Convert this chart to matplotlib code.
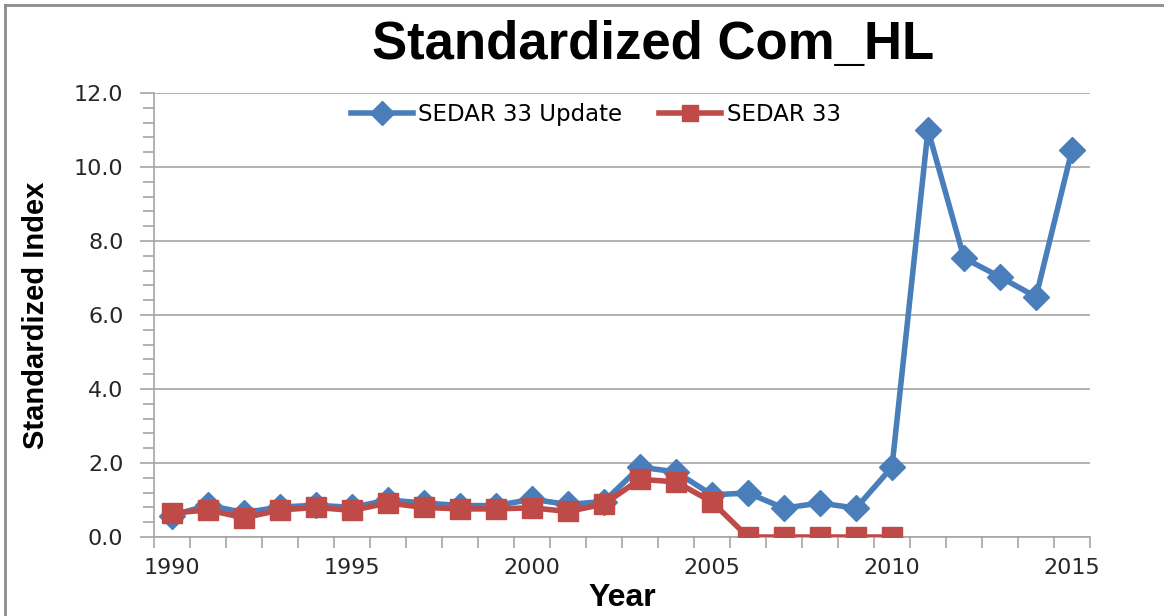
import matplotlib.pyplot as plt
import numpy as np
from matplotlib.lines import Line2D

years = np.arange(1990, 2016)
update = [0.58, 0.86, 0.66, 0.81, 0.86, 0.8, 1.0, 0.92, 0.85, 0.85, 1.02,
          0.88, 0.96, 1.89, 1.76, 1.14, 1.19, 0.78, 0.92, 0.78, 1.89,
          11.0, 7.54, 7.03, 6.49, 10.46]
sedar_years = np.arange(1990, 2011)
sedar33 = [0.65, 0.73, 0.52, 0.73, 0.8, 0.72, 0.92, 0.8, 0.76, 0.76, 0.79,
           0.69, 0.89, 1.56, 1.49, 0.95, 0.0, 0.0, 0.0, 0.0, 0.0]

blue = '#4A7EBB'
red = '#BE4B48'
grid_col = '#A6A6A6'

fig = plt.figure(figsize=(11.64, 6.16), dpi=100)
ax = fig.add_axes([0.1323, 0.1282, 0.8041, 0.7208])

ax.plot(years, update, color=blue, linewidth=4, marker='D', markersize=13,
        label='SEDAR 33 Update', zorder=3)
ax.plot(sedar_years, sedar33, color=red, linewidth=4, marker='s', markersize=15,
        label='SEDAR 33', zorder=4)

ax.set_xlim(1989.5, 2015.5)
ax.set_ylim(0, 12)

# y axis: labels every 2, minor ticks every 0.4
ax.set_yticks(np.arange(0, 12.1, 2))
ax.set_yticklabels(['%.1f' % v for v in np.arange(0, 12.1, 2)])
ax.set_yticks(np.arange(0, 12.01, 0.4), minor=True)
ax.yaxis.grid(True, which='major', color=grid_col, linewidth=1.2)
ax.set_axisbelow(True)

# x axis: ticks between categories, labels every 5 years
ax.set_xticks(np.arange(1990, 2016, 5))
ax.set_xticks(np.arange(1989.5, 2016, 1), minor=True)
ax.tick_params(axis='x', which='major', length=0, pad=15)
ax.tick_params(axis='x', which='minor', length=8, color=grid_col, width=1.2)
ax.tick_params(axis='y', which='major', length=10, color=grid_col, width=1.2, pad=12)
ax.tick_params(axis='y', which='minor', length=8, color=grid_col, width=1.2)
for lab in ax.get_xticklabels() + ax.get_yticklabels():
    lab.set_fontfamily('DejaVu Sans')
    lab.set_fontsize(16)
    lab.set_color('#262626')

for s in ['top', 'right']:
    ax.spines[s].set_visible(False)
for s in ['left', 'bottom']:
    ax.spines[s].set_color(grid_col)
    ax.spines[s].set_linewidth(1.2)

fig.text(0.561, 0.927, 'Standardized Com_HL', ha='center', va='center',
         fontsize=38, fontweight='bold', family='Liberation Sans')
ax.set_ylabel('Standardized Index', fontsize=21, fontweight='bold',
              family='Liberation Sans', labelpad=17)
ax.set_xlabel('Year', fontsize=23, fontweight='bold', family='Liberation Sans',
              labelpad=4)

leg = ax.legend(loc='upper center', bbox_to_anchor=(0.472, 1.025), ncol=2,
                frameon=False, handlelength=2.7, columnspacing=1.6,
                handletextpad=0.25, prop={'family': 'DejaVu Sans', 'size': 16.5})
for h in leg.legend_handles:
    h.set_markersize(12)

# outer chart frame (left and top edges visible)
fig.add_artist(Line2D([0.0047, 0.0047], [0, 0.992], transform=fig.transFigure,
                      color='#8C8C8C', linewidth=2))
fig.add_artist(Line2D([0.0047, 1], [0.992, 0.992], transform=fig.transFigure,
                      color='#8C8C8C', linewidth=2))

fig.savefig('out.png', dpi=100)
